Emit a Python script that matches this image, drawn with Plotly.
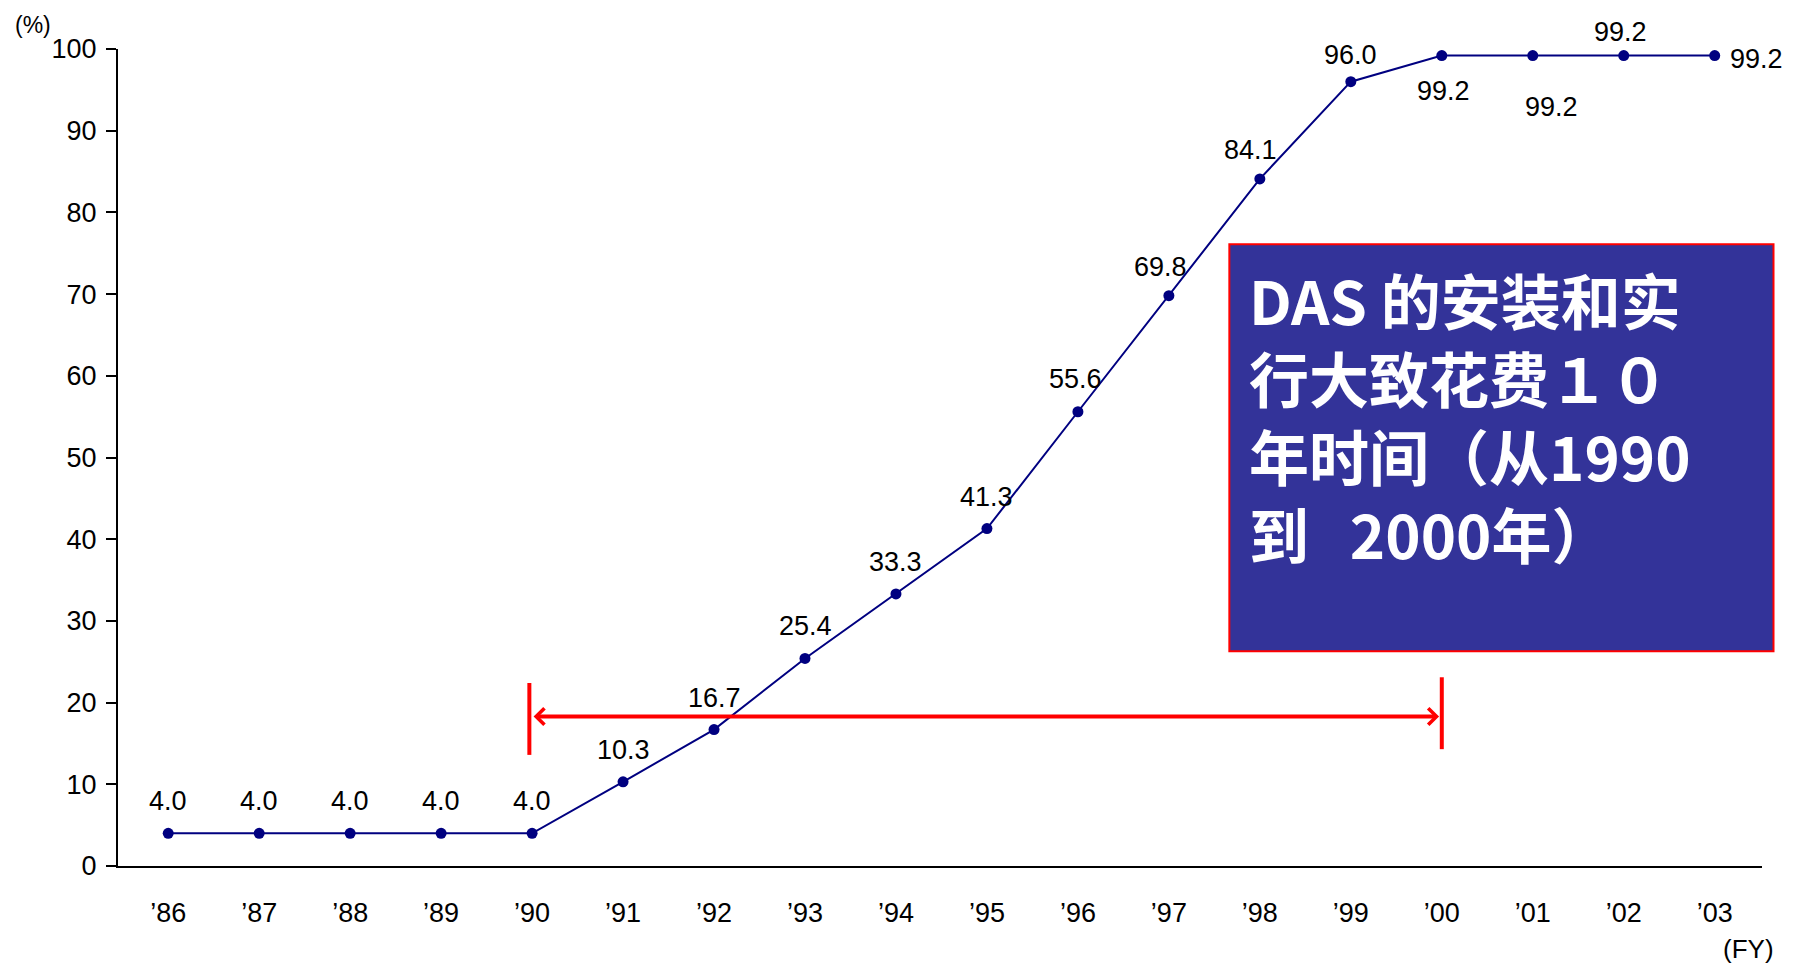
import plotly.graph_objects as go

years = ["’86", "’87", "’88", "’89", "’90", "’91", "’92", "’93", "’94",
         "’95", "’96", "’97", "’98", "’99", "’00", "’01", "’02", "’03"]
rates = [4.0, 4.0, 4.0, 4.0, 4.0, 10.3, 16.7, 25.4, 33.3,
         41.3, 55.6, 69.8, 84.1, 96.0, 99.2, 99.2, 99.2, 99.2]
y_ticks = [0, 10, 20, 30, 40, 50, 60, 70, 80, 90, 100]
box_text = "DAS 的安装和实<br>行大致花费１０<br>年时间（从1990<br>到&nbsp;&nbsp; 2000年）"

# label offsets in pixels (style only)
label_dx = [0]*18
label_dy = [32]*18
label_dx[10], label_dy[10] = -2, 33
label_dx[11], label_dy[11] = -8, 29
label_dx[12], label_dy[12] = -9, 29
label_dy[13] = 27
label_dx[14], label_dy[14] = 2, -35
label_dx[15], label_dy[15] = 19, -51
label_dx[16], label_dy[16] = -3, 24
label_dx[17], label_dy[17] = 42, -3

FONT = "Liberation Sans, Arial, sans-serif"
xs = list(range(len(years)))

fig = go.Figure()
fig.add_trace(go.Scatter(
    x=xs, y=rates, mode="lines+markers",
    line=dict(color="#000080", width=2),
    marker=dict(color="#000080", size=11),
    hoverinfo="skip", showlegend=False))

annotations = []
for i, v in enumerate(rates):
    annotations.append(dict(x=xs[i], y=v, text=f"{v:.1f}", showarrow=False,
                            xshift=label_dx[i], yshift=label_dy[i],
                            font=dict(family=FONT, size=27, color="black")))

# double arrow from '90 to '00
start_i = years.index("’90")
end_i = years.index("’00")
annotations.append(dict(x=end_i - 0.03, y=18.3, ax=start_i - 0.0, ay=18.3,
                        xref="x", yref="y", axref="x", ayref="y",
                        showarrow=True, arrowhead=4, startarrowhead=4,
                        arrowside="end+start", arrowsize=0.8, arrowwidth=4,
                        arrowcolor="#ff0000", text=""))

annotations.append(dict(x=-0.064, y=1.029, xref="paper", yref="paper",
                        xanchor="left", yanchor="middle", text="(%)",
                        showarrow=False, font=dict(family=FONT, size=23, color="black")))
annotations.append(dict(x=1.008, y=-0.1215, xref="paper", yref="paper",
                        xanchor="right", yanchor="bottom", text="(FY)", borderpad=0,
                        showarrow=False, font=dict(family=FONT, size=26, color="black")))
annotations.append(dict(x=0.687, y=0.75, xref="paper", yref="paper",
                        xanchor="left", yanchor="top", align="left", text=box_text,
                        showarrow=False,
                        font=dict(family="Noto Sans CJK SC", size=60, color="white",
                                  weight="bold")))

shapes = [
    dict(type="line", xref="x", yref="y", x0=start_i - 0.03, x1=start_i - 0.03,
         y0=13.6, y1=22.4, line=dict(color="#ff0000", width=4)),
    dict(type="line", xref="x", yref="y", x0=end_i, x1=end_i,
         y0=14.3, y1=23.1, line=dict(color="#ff0000", width=4)),
    dict(type="rect", xref="paper", yref="paper", x0=0.676, x1=1.007,
         y0=0.263, y1=0.761, fillcolor="#333399",
         line=dict(color="#ff0000", width=2)),
]

fig.update_layout(
    width=1786, height=958,
    margin=dict(l=110, r=32, t=41, b=100),
    paper_bgcolor="white", plot_bgcolor="white",
    annotations=annotations, shapes=shapes,
    xaxis=dict(range=[-0.552, 17.52], tickvals=xs, ticktext=years,
               showgrid=False, zeroline=False, showline=True,
               linecolor="black", linewidth=2, ticks="", ticklabelstandoff=22,
               tickfont=dict(family=FONT, size=27, color="black")),
    yaxis=dict(range=[0, 100], tickvals=y_ticks, showgrid=False, zeroline=False,
               showline=True, linecolor="black", linewidth=2, ticks="outside",
               ticklen=10, tickwidth=2, tickcolor="black", ticklabelstandoff=4,
               tickfont=dict(family=FONT, size=27, color="black")),
)

fig.write_html("out.html")
